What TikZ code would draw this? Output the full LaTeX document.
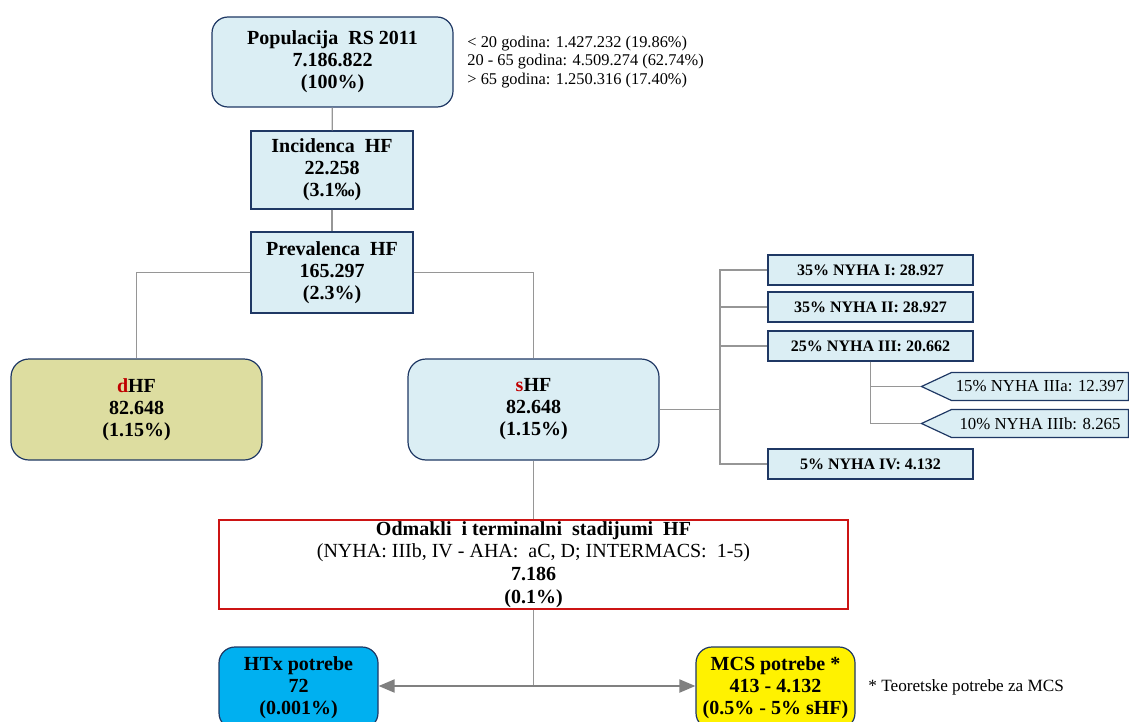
\documentclass[tikz,border=0pt]{standalone}
\usepackage{fontspec}
\setmainfont{Liberation Serif}
\usetikzlibrary{shapes.symbols,arrows.meta}

\definecolor{boxblue}{RGB}{219,238,244}
\definecolor{boxline}{RGB}{31,56,100}
\definecolor{linegray}{RGB}{150,150,150}
\definecolor{arrowgray}{RGB}{128,128,128}
\definecolor{dhfolive}{RGB}{221,221,160}
\definecolor{stagered}{RGB}{204,20,20}
\definecolor{letterred}{RGB}{192,0,0}
\definecolor{htxblue}{RGB}{0,176,240}

\tikzset{
  conn/.style={draw=linegray, line width=0.6pt},
  twoway/.style={draw=arrowgray, line width=1pt, -{Triangle[length=8pt,width=6.5pt]}},
  mainbox/.style={draw=boxline, line width=0.6pt, fill=boxblue, align=center, inner sep=0pt,
    font=\fontsize{10}{11}\selectfont\bfseries},
  roundbox/.style={mainbox, rounded corners=8pt},
  nyhabox/.style={mainbox, minimum width=102.5pt, minimum height=15pt,
    font=\fontsize{8}{9}\selectfont\bfseries},
  subcall/.style={draw=boxline, line width=0.6pt, fill=boxblue, signal, signal to=west,
    signal pointer angle=50, minimum width=103.5pt, minimum height=14pt, inner sep=1pt,
    font=\fontsize{8.4}{9}\selectfont}
}

\begin{document}
\begin{tikzpicture}[x=0.5pt,y=-0.5pt]
\useasboundingbox (0,0) rectangle (1129,722);
\clip (0,0) rectangle (1129,722);

% population and incidence
\node[roundbox, minimum width=120.5pt, minimum height=45pt] (pop) at (332.5,62)
  {Populacija \ RS 2011\\7.186.822\\(100\%)};
\node[anchor=west, align=left, inner sep=0pt, font=\fontsize{8.2}{9.4}\selectfont] (ages) at (467,62)
  {< 20 godina: 1.427.232 (19.86\%)\\20 - 65 godina: 4.509.274 (62.74\%)\\> 65 godina: 1.250.316 (17.40\%)};
\node[mainbox, minimum width=81pt, minimum height=39pt] (inc) at (332,170)
  {Incidenca \ HF\\22.258\\(3.1‰)};
\node[mainbox, minimum width=81pt, minimum height=40.5pt] (prev) at (332,272.5)
  {Prevalenca \ HF\\165.297\\(2.3\%)};

% dHF / sHF
\node[roundbox, fill=dhfolive, rounded corners=9pt, minimum width=125.5pt, minimum height=50.5pt] (dhf) at (136.5,409.5)
  {\textcolor{letterred}{d}HF\\82.648\\(1.15\%)};
\node[roundbox, rounded corners=9pt, minimum width=125.5pt, minimum height=50.5pt] (shf) at (533.5,409.5)
  {\textcolor{letterred}{s}HF\\82.648\\(1.15\%)};

% NYHA classes
\node[nyhabox] (ny1) at (870.5,270) {35\% NYHA I: 28.927};
\node[nyhabox] (ny2) at (870.5,307) {35\% NYHA II: 28.927};
\node[nyhabox] (ny3) at (870.5,346) {25\% NYHA III: 20.662};
\node[nyhabox] (ny4) at (870.5,464) {5\% NYHA IV: 4.132};
\node[subcall] (ny3a) at (1040,386.5) {15\% NYHA IIIa: 12.397};
\node[subcall] (ny3b) at (1040,423.5) {10\% NYHA IIIb: 8.265};

% advanced stages
\node[draw=stagered, line width=0.7pt, fill=white, align=center, inner sep=0pt,
  minimum width=314.5pt, minimum height=44.5pt,
  font=\fontsize{10}{11.4}\selectfont] (stage) at (533.5,564.5)
  {\textbf{Odmakli \ i terminalni \ stadijumi \ HF}\\(NYHA: IIIb, IV - AHA: \ aC, D; INTERMACS: \ 1-5)\\\textbf{7.186}\\\textbf{(0.1\%)}};

% needs
\node[roundbox, fill=htxblue, minimum width=79.5pt, minimum height=41pt] (htx) at (298.5,688)
  {HTx potrebe\\72\\(0.001\%)};
\node[roundbox, fill=yellow, minimum width=79.5pt, minimum height=41pt] (mcs) at (775.5,688)
  {MCS potrebe *\\413 - 4.132\\(0.5\% - 5\% sHF)};
\node[anchor=west, inner sep=0pt, font=\fontsize{8.6}{9}\selectfont] (note) at (868,687) {* Teoretske potrebe za MCS};

% connectors
\draw[conn] (pop) -- (inc);
\draw[conn] (inc) -- (prev);
\draw[conn] (prev.west) -| (dhf.north);
\draw[conn] (prev.east) -| (shf.north);
\coordinate (trunk) at (720,409.5);
\draw[conn] (shf.east) -- (trunk);
\draw[conn] (trunk) |- (ny1.west);
\draw[conn] (trunk) |- (ny2.west);
\draw[conn] (trunk) |- (ny3.west);
\draw[conn] (trunk) |- (ny4.west);
\draw[conn] (ny3.south) |- (ny3a.west);
\draw[conn] (ny3.south) |- (ny3b.west);
\draw[conn] (shf.south) -- (stage.north);
\coordinate (split) at (533.5,686);
\draw[conn] (stage.south) -- (split);
\draw[twoway] (split) -- (htx.east |- split);
\draw[twoway] (split) -- (mcs.west |- split);
\end{tikzpicture}
\end{document}
